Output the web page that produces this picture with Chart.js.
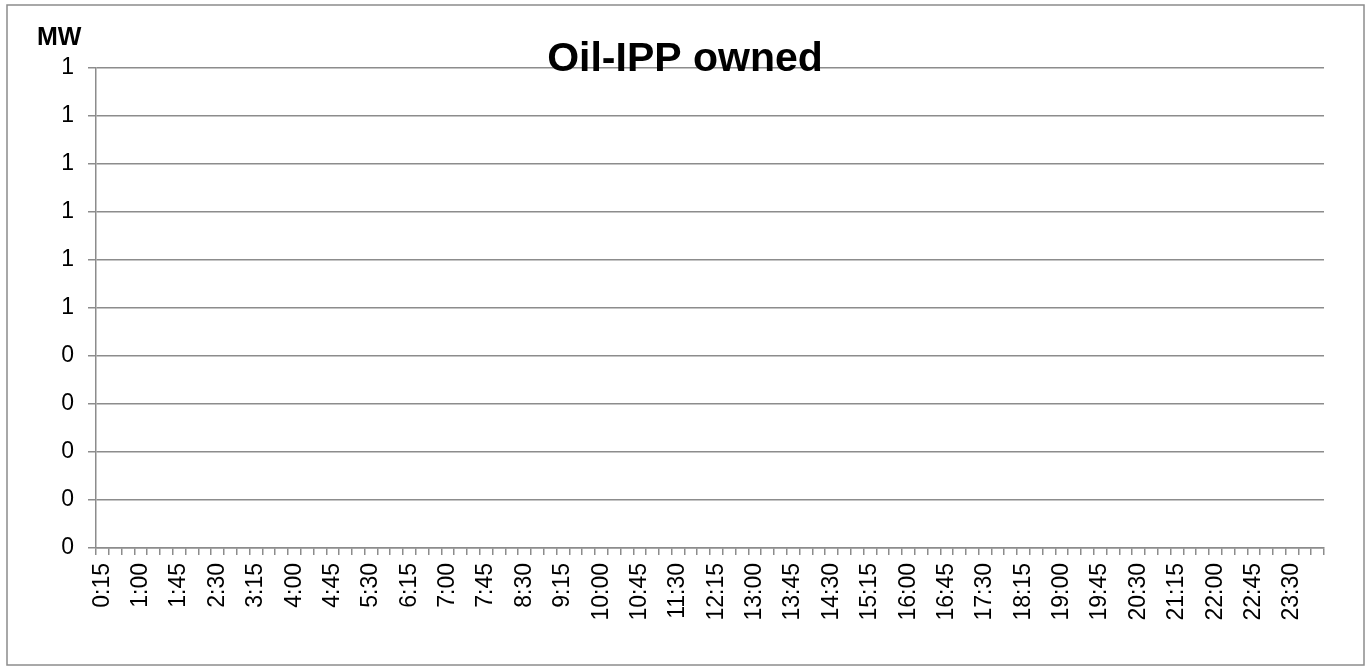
<!DOCTYPE html>
<html>
<head>
<meta charset="utf-8">
<title>Oil-IPP owned</title>
<script src="https://cdn.jsdelivr.net/npm/chart.js@4"></script>
<style>
    html, body { margin: 0; padding: 0; background: #fff; }
    #wrap { position: relative; width: 1365px; height: 667px; }
</style>
</head>
<body>
<div id="wrap"><canvas id="oilChart"></canvas></div>
<script>
// 15-minute intervals of the day, 0:15 .. 24:00
const timeSlots = [
    '0:15', '0:30', '0:45', '1:00', '1:15', '1:30', '1:45', '2:00',
    '2:15', '2:30', '2:45', '3:00', '3:15', '3:30', '3:45', '4:00',
    '4:15', '4:30', '4:45', '5:00', '5:15', '5:30', '5:45', '6:00',
    '6:15', '6:30', '6:45', '7:00', '7:15', '7:30', '7:45', '8:00',
    '8:15', '8:30', '8:45', '9:00', '9:15', '9:30', '9:45', '10:00',
    '10:15', '10:30', '10:45', '11:00', '11:15', '11:30', '11:45', '12:00',
    '12:15', '12:30', '12:45', '13:00', '13:15', '13:30', '13:45', '14:00',
    '14:15', '14:30', '14:45', '15:00', '15:15', '15:30', '15:45', '16:00',
    '16:15', '16:30', '16:45', '17:00', '17:15', '17:30', '17:45', '18:00',
    '18:15', '18:30', '18:45', '19:00', '19:15', '19:30', '19:45', '20:00',
    '20:15', '20:30', '20:45', '21:00', '21:15', '21:30', '21:45', '22:00',
    '22:15', '22:30', '22:45', '23:00', '23:15', '23:30', '23:45', '24:00'
];

// no oil IPP generation recorded: the series is empty
const oilIppMW = [];

// y axis labels as the sheet shows them (0..1 by 0.1, no decimals)
const yTickLabels = ['0', '0', '0', '0', '0', '1', '1', '1', '1', '1', '1'];

const chartTitle = 'Oil-IPP owned';
const yUnit = 'MW';

const LINE_GREY = '#8c8c8c';
const FONT = '"Liberation Sans", Arial, sans-serif';

// title + unit label + outer frame, drawn like the spreadsheet chart
const decorPlugin = {
    id: 'decor',
    afterDraw(chart) {
        const c = chart.ctx;
        c.save();
        c.strokeStyle = LINE_GREY;
        c.lineWidth = 1.5;
        c.strokeRect(7, 5, 1357, 660);

        c.fillStyle = '#000';
        c.textBaseline = 'alphabetic';
        c.font = 'bold 41px ' + FONT;
        c.textAlign = 'center';
        c.fillText(chartTitle, 685, 71);

        c.font = 'bold 25px ' + FONT;
        c.textAlign = 'left';
        c.fillText(yUnit, 37, 45);
        c.restore();
    }
};

const ctx = document.getElementById('oilChart').getContext('2d');
const chart = new Chart(ctx, {
    type: 'line',
    data: {
        labels: timeSlots,
        datasets: [{
            label: chartTitle,
            data: oilIppMW,
            borderColor: '#4a7ebb',
            borderWidth: 2,
            pointRadius: 0,
            fill: false
        }]
    },
    options: {
        responsive: true,
        maintainAspectRatio: false,
        animation: false,
        layout: { padding: { left: 0, top: 68, right: 41, bottom: 0 } },
        plugins: {
            legend: { display: false },
            title: { display: false },
            tooltip: { enabled: false }
        },
        scales: {
            x: {
                type: 'category',
                offset: true,
                grid: {
                    offset: true,
                    drawOnChartArea: false,
                    drawTicks: true,
                    tickLength: 7,
                    color: LINE_GREY,
                    lineWidth: 1.5
                },
                border: { display: true, color: LINE_GREY, width: 1.5 },
                ticks: {
                    autoSkip: false,
                    minRotation: 90,
                    maxRotation: 90,
                    padding: 8,
                    color: '#000',
                    font: { family: FONT, size: 23 },
                    callback: function (value, index) {
                        return index % 3 === 0 ? timeSlots[index] : '';
                    }
                },
                afterFit: function (scale) { scale.height = 119; }
            },
            y: {
                min: 0,
                max: 1,
                grid: {
                    color: LINE_GREY,
                    lineWidth: 1.5,
                    drawTicks: true,
                    tickLength: 8
                },
                border: { display: true, color: LINE_GREY, width: 1.5 },
                ticks: {
                    stepSize: 0.1,
                    padding: 14,
                    color: '#000',
                    font: { family: FONT, size: 23 },
                    callback: function (value, index) {
                        return yTickLabels[index];
                    }
                },
                afterFit: function (scale) { scale.width = 96; }
            }
        }
    },
    plugins: [decorPlugin]
});
</script>
</body>
</html>
